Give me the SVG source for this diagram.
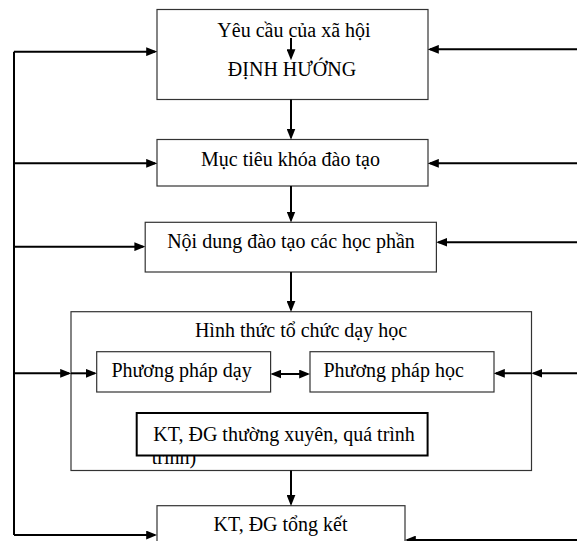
<svg xmlns="http://www.w3.org/2000/svg" width="577" height="541" viewBox="0 0 577 541">
<style>
.box{fill:#fff;stroke:#333;stroke-width:1.2}
.kt{fill:#fff;stroke:#000;stroke-width:2}
.t{font-family:"Liberation Serif","Times New Roman",serif;font-size:20px;fill:#000}
.c{text-anchor:middle}
.ln{fill:none;stroke:#000;stroke-width:2}
.a{marker-end:url(#ah)}
.d{marker-start:url(#ah);marker-end:url(#ah)}
</style>
<defs>
<marker id="ah" markerUnits="userSpaceOnUse" markerWidth="11" markerHeight="9" refX="8" refY="4" orient="auto-start-reverse" viewBox="0 0 10 8">
<path d="M0,0 L10,4 L0,8 z" fill="#000"/>
</marker>
</defs>
<rect width="577" height="541" fill="#fff"/>

<g id="n1">
<rect class="box" x="157" y="9.5" width="271" height="90"/>
<text class="t c" x="294" y="36.7">Yêu cầu của xã hội</text>
<line class="ln a" x1="291" y1="38" x2="291" y2="58"/>
<text class="t c" x="292" y="75.7">ĐỊNH HƯỚNG</text>
</g>

<g id="n2">
<rect class="box" x="157" y="139.5" width="271" height="46.5"/>
<text class="t c" x="290.5" y="166">Mục tiêu khóa đào tạo</text>
</g>

<g id="n3">
<rect class="box" x="145.2" y="222.3" width="291.2" height="49.7"/>
<text class="t c" x="291" y="247.5">Nội dung đào tạo các học phần</text>
</g>

<g id="n4">
<rect class="box" x="71" y="311.7" width="460.5" height="158.8"/>
<text class="t c" x="301" y="337">Hình thức tổ chức dạy học</text>
<text class="t" x="151.7" y="464">trình)</text>
</g>

<g id="n5">
<rect class="box" x="96.7" y="351.7" width="173.9" height="40.3"/>
<text class="t" x="111.4" y="377">Phương pháp dạy</text>
</g>

<g id="n6">
<rect class="box" x="310" y="351.7" width="184" height="40.3"/>
<text class="t" x="323.5" y="377">Phương pháp học</text>
</g>

<g id="n7">
<rect class="kt" x="136.7" y="413" width="290.9" height="42.5"/>
<text class="t" x="153.3" y="441">KT, ĐG thường xuyên, quá trình</text>
</g>

<g id="n8">
<rect class="box" x="157" y="505.7" width="248" height="40"/>
<text class="t" x="213.5" y="531">KT, ĐG tổng kết</text>
</g>

<g id="connectors">
<line class="ln" x1="14" y1="51.7" x2="14" y2="535"/>
<line class="ln a" x1="14" y1="51.7" x2="155" y2="51.7"/>
<line class="ln a" x1="577" y1="49.3" x2="430" y2="49.3"/>
<line class="ln a" x1="291" y1="99.5" x2="291" y2="137.5"/>
<line class="ln a" x1="14" y1="163.3" x2="155" y2="163.3"/>
<line class="ln a" x1="577" y1="163.3" x2="430" y2="163.3"/>
<line class="ln a" x1="291" y1="186" x2="291" y2="220.3"/>
<line class="ln a" x1="14" y1="246.7" x2="143.2" y2="246.7"/>
<line class="ln a" x1="577" y1="242.3" x2="438.4" y2="242.3"/>
<line class="ln a" x1="291" y1="272" x2="291" y2="309.7"/>
<line class="ln a" x1="14" y1="373.3" x2="69" y2="373.3"/>
<line class="ln a" x1="71" y1="373.3" x2="94.7" y2="373.3"/>
<line class="ln a" x1="577" y1="373.3" x2="533.5" y2="373.3"/>
<line class="ln a" x1="531.5" y1="373.3" x2="496" y2="373.3"/>
<line class="ln d" x1="272.6" y1="374" x2="308" y2="374"/>
<line class="ln a" x1="291" y1="470.5" x2="291" y2="503.7"/>
<line class="ln a" x1="14" y1="535" x2="155" y2="535"/>
<line class="ln a" x1="577" y1="540" x2="407" y2="540"/>
</g>
</svg>
